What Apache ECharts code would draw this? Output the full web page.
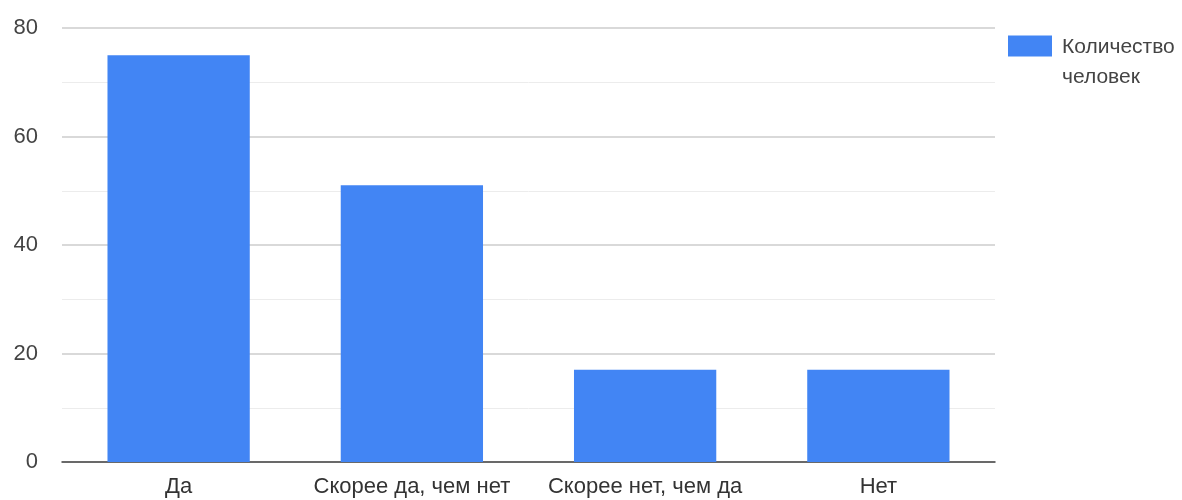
<!DOCTYPE html>
<html><head><meta charset="utf-8">
<script src="https://cdn.jsdelivr.net/npm/echarts@6/dist/echarts.min.js"></script>
<style>html,body{margin:0;padding:0;background:#fff}#c{width:1182px;height:500px}</style>
</head><body><div id="c"></div>
<script>
const categories = ["Да", "Скорее да, чем нет", "Скорее нет, чем да", "Нет"];
const values = [75, 51, 17, 17];
const seriesName = "Количество человек";
const chart = echarts.init(document.getElementById('c'));
chart.setOption({
  animation: false,
  textStyle: {fontFamily: '"Liberation Sans", Arial, sans-serif'},
  grid: {left: 62, right: 187, top: 28, bottom: 38, containLabel: false},
  legend: {
    left: 1008, top: 11, padding: 0, orient: 'vertical',
    itemWidth: 44, itemHeight: 21, itemGap: 10,
    icon: 'rect',
    formatter: function () { return '{s| }\n{a|Количество}\n{a|человек}'; },
    textStyle: {
      color: '#444',
      rich: {
        s: {fontSize: 10, lineHeight: 33},
        a: {fontSize: 21, lineHeight: 30, color: '#444', padding: [0, 0, 0, 5]}
      }
    },
    data: [seriesName]
  },
  xAxis: {
    type: 'category', data: categories,
    axisLine: {lineStyle: {color: '#444', width: 1.5}},
    axisTick: {show: false},
    axisLabel: {fontSize: 22, color: '#333', margin: 14, interval: 0}
  },
  yAxis: {
    type: 'value', min: 0, max: 80, interval: 20,
    axisLine: {show: false}, axisTick: {show: false},
    axisLabel: {fontSize: 22, color: '#444', margin: 24},
    splitLine: {lineStyle: {color: '#cccccc', width: 1.5}},
    minorTick: {show: false, splitNumber: 2},
    minorSplitLine: {show: true, lineStyle: {color: '#ececec', width: 1}}
  },
  series: [{
    name: seriesName, type: 'bar', data: values,
    barWidth: '61%',
    itemStyle: {color: '#4285f4'}
  }]
});
</script></body></html>
